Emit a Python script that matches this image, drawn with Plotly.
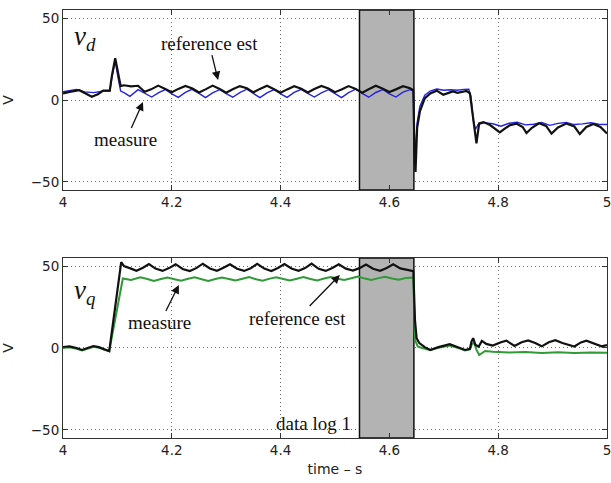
import plotly.graph_objects as go

# ---------------- data ----------------
x_ticks = [4, 4.2, 4.4, 4.6, 4.8, 5]
x_ticklabels = ["4", "4.2", "4.4", "4.6", "4.8", "5"]
y_ticks = [-50, 0, 50]
y_ticklabels = ["\u221250", "0", "50"]

box_t = [4.545, 4.645]   # grey "data log 1" window
box_v = [-55, 55]

# top plot: v_d
vd_ref_t = [4.000, 4.012, 4.030, 4.042, 4.053, 4.064, 4.074, 4.086, 4.090, 4.096, 4.101, 4.106,
            4.112, 4.125, 4.138, 4.150, 4.162, 4.175, 4.188, 4.200, 4.212, 4.225, 4.238, 4.250,
            4.262, 4.275, 4.288, 4.300, 4.312, 4.325, 4.338, 4.350, 4.362, 4.375, 4.388, 4.400,
            4.412, 4.425, 4.438, 4.450, 4.462, 4.475, 4.488, 4.500, 4.512, 4.525, 4.538, 4.550,
            4.562, 4.575, 4.588, 4.600, 4.612, 4.625, 4.638, 4.644, 4.646, 4.648, 4.651, 4.656,
            4.665, 4.675, 4.687, 4.699, 4.710, 4.717, 4.725, 4.733, 4.742, 4.748, 4.754, 4.760,
            4.765, 4.773, 4.785, 4.803, 4.812, 4.822, 4.834, 4.845, 4.852, 4.862, 4.875, 4.888,
            4.898, 4.910, 4.925, 4.940, 4.950, 4.962, 4.975, 4.988, 5.000]
vd_ref_v = [4.0, 5.0, 6.0, 4.0, 2.0, 3.5, 5.7, 5.7, 15.0, 25.5, 16.0, 8.5,
            9.0, 8.3, 8.7, 5.0, 6.5, 8.8, 6.8, 4.8, 6.8, 8.6, 7.0, 4.6,
            6.5, 8.8, 6.8, 4.5, 6.6, 8.5, 7.2, 4.7, 6.8, 8.7, 6.6, 4.4,
            6.5, 8.4, 6.9, 4.6, 6.7, 8.6, 7.0, 4.8, 6.4, 8.5, 6.8, 4.5,
            6.6, 8.7, 6.9, 4.9, 6.5, 8.4, 7.2, 6.0, -30.0, -44.0, -17.0, -7.0,
            1.0, 4.0, 5.7, 3.2, 4.5, 5.2, 4.4, 5.0, 5.5, 4.0, -13.0, -26.5,
            -14.3, -13.5, -15.3, -19.8, -17.5, -15.3, -14.5, -16.5, -20.2, -17.0, -14.2, -15.8,
            -20.5, -16.8, -14.4, -16.2, -20.8, -16.5, -14.6, -16.5, -20.5]

vd_meas_t = [4.000, 4.025, 4.040, 4.056, 4.075, 4.086, 4.090, 4.096, 4.101, 4.106, 4.112, 4.123,
             4.138, 4.150, 4.163, 4.176, 4.188, 4.200, 4.212, 4.225, 4.237, 4.250, 4.262, 4.275,
             4.288, 4.300, 4.312, 4.325, 4.338, 4.350, 4.362, 4.375, 4.388, 4.400, 4.412, 4.425,
             4.438, 4.450, 4.462, 4.475, 4.488, 4.500, 4.512, 4.525, 4.538, 4.550, 4.562, 4.575,
             4.588, 4.600, 4.612, 4.625, 4.638, 4.644, 4.647, 4.651, 4.656, 4.665, 4.675, 4.687,
             4.700, 4.712, 4.725, 4.737, 4.746, 4.750, 4.754, 4.758, 4.763, 4.775, 4.790, 4.805,
             4.820, 4.835, 4.850, 4.865, 4.880, 4.895, 4.910, 4.925, 4.940, 4.955, 4.970, 4.985,
             5.000]
vd_meas_v = [5.0, 6.5, 5.0, 4.5, 5.5, 5.5, 14.0, 24.0, 14.0, 5.5, 4.5, 2.2,
             6.3, 4.0, 1.8, 4.5, 6.4, 3.8, 1.6, 4.6, 6.5, 4.0, 1.5, 4.4,
             6.3, 3.9, 1.7, 4.5, 6.6, 4.0, 1.5, 4.3, 6.4, 3.8, 1.6, 4.6,
             6.5, 4.1, 1.8, 4.4, 6.3, 3.9, 1.5, 4.5, 6.6, 4.0, 1.7, 4.6,
             6.4, 3.8, 1.8, 4.8, 6.3, 5.5, -38.0, -14.0, -4.0, 3.0, 5.5, 6.7,
             6.0, 6.3, 6.0, 6.5, 6.6, 2.0, -12.0, -18.0, -15.0, -13.8, -14.5, -16.0,
             -14.2, -13.6, -15.2, -14.8, -13.8, -15.5, -14.3, -13.7, -15.0, -14.6, -13.9, -14.8,
             -15.0]

# bottom plot: v_q
vq_ref_t = [4.000, 4.012, 4.025, 4.035, 4.045, 4.056, 4.066, 4.075, 4.085, 4.107, 4.112, 4.125,
            4.135, 4.147, 4.158, 4.170, 4.183, 4.195, 4.207, 4.220, 4.233, 4.245, 4.257, 4.270,
            4.283, 4.295, 4.307, 4.320, 4.333, 4.345, 4.357, 4.370, 4.383, 4.395, 4.407, 4.420,
            4.433, 4.445, 4.457, 4.470, 4.483, 4.495, 4.507, 4.520, 4.533, 4.545, 4.557, 4.570,
            4.583, 4.595, 4.607, 4.620, 4.633, 4.644, 4.647, 4.650, 4.655, 4.665, 4.675, 4.690,
            4.711, 4.725, 4.739, 4.748, 4.751, 4.754, 4.758, 4.764, 4.770, 4.778, 4.790, 4.805,
            4.815, 4.830, 4.843, 4.855, 4.868, 4.880, 4.893, 4.905, 4.918, 4.940, 4.952, 4.962,
            4.975, 4.990, 5.000]
vq_ref_v = [0.5, 1.0, 0.0, -1.2, 0.0, 1.2, 0.5, -0.8, -2.0, 52.5, 50.0, 48.5,
            47.2, 49.0, 51.3, 48.5, 47.1, 48.8, 51.2, 48.3, 47.0, 48.8, 51.5, 48.6,
            47.2, 49.0, 51.2, 48.4, 47.1, 48.7, 51.4, 48.5, 47.0, 48.9, 51.3, 48.6,
            47.2, 48.8, 51.5, 48.4, 47.1, 48.9, 51.2, 48.5, 47.3, 48.8, 51.0, 48.4,
            47.2, 48.9, 51.1, 48.6, 47.8, 47.0, 17.0, 6.0, 3.0, 0.5, -1.2, 0.5,
            2.3, 0.5, -1.2, -0.5, 4.0, 6.0, 2.0, 0.8, 4.3, 2.5, 1.5, 3.5,
            4.5, 1.2, 3.5, 4.6, 3.0, 1.0, 3.5, 4.8, 3.0, 0.9, 3.4, 4.5,
            3.0, 1.0, 1.8]

vq_meas_t = [4.000, 4.012, 4.025, 4.035, 4.045, 4.056, 4.066, 4.075, 4.085, 4.110, 4.125, 4.142,
             4.155, 4.167, 4.180, 4.192, 4.205, 4.217, 4.230, 4.242, 4.255, 4.267, 4.280, 4.292,
             4.305, 4.317, 4.330, 4.342, 4.355, 4.367, 4.380, 4.392, 4.405, 4.417, 4.430, 4.442,
             4.455, 4.467, 4.480, 4.492, 4.505, 4.517, 4.530, 4.542, 4.555, 4.567, 4.580, 4.592,
             4.605, 4.617, 4.630, 4.644, 4.647, 4.652, 4.660, 4.675, 4.690, 4.711, 4.725, 4.739,
             4.748, 4.752, 4.756, 4.760, 4.765, 4.776, 4.790, 4.820, 4.850, 4.880, 4.910, 4.940,
             4.970, 5.000]
vq_meas_v = [0.0, 0.5, -0.5, -1.5, -0.5, 0.8, 0.2, -1.0, -1.8, 42.5, 41.5, 43.2,
             42.1, 41.0, 42.2, 43.1, 42.0, 41.1, 42.3, 43.2, 42.0, 41.0, 42.2, 43.0,
             42.1, 41.2, 42.3, 43.3, 42.0, 41.1, 42.4, 43.2, 42.2, 41.2, 42.3, 43.4,
             42.2, 41.3, 42.5, 43.4, 42.3, 41.5, 42.6, 43.6, 42.4, 41.6, 42.7, 43.5,
             42.5, 41.7, 42.8, 43.0, 5.0, 1.0, 0.0, -1.2, 0.2, 1.5, 0.2, -1.5,
             -0.8, 2.5, 3.0, -1.0, -4.3, -1.8, -2.3, -2.8, -2.4, -3.0, -2.6, -3.0,
             -2.7, -2.9]

# ---------------- figure ----------------
BLACK = "#111111"
BLUE = "#2222e0"
GREEN = "#2f9a36"

fig = go.Figure()

# grey data-log windows (drawn first so the signals lie on top)
box_x = [box_t[0], box_t[1], box_t[1], box_t[0], box_t[0]]
box_y = [box_v[0], box_v[0], box_v[1], box_v[1], box_v[0]]
for xa, ya in (("x", "y"), ("x2", "y2")):
    fig.add_trace(go.Scatter(x=box_x, y=box_y, mode="lines", fill="toself",
                             fillcolor="#b3b3b3", line=dict(color="#111111", width=1.5),
                             xaxis=xa, yaxis=ya, showlegend=False, hoverinfo="skip"))

fig.add_trace(go.Scatter(x=vd_meas_t, y=vd_meas_v, mode="lines",
                         line=dict(color=BLUE, width=1.4), xaxis="x", yaxis="y", showlegend=False))
fig.add_trace(go.Scatter(x=vd_ref_t, y=vd_ref_v, mode="lines",
                         line=dict(color=BLACK, width=2.2), xaxis="x", yaxis="y", showlegend=False))
fig.add_trace(go.Scatter(x=vq_meas_t, y=vq_meas_v, mode="lines",
                         line=dict(color=GREEN, width=2.0), xaxis="x2", yaxis="y2", showlegend=False))
fig.add_trace(go.Scatter(x=vq_ref_t, y=vq_ref_v, mode="lines",
                         line=dict(color=BLACK, width=2.2), xaxis="x2", yaxis="y2", showlegend=False))

tickfont = dict(family="DejaVu Sans", size=13.5, color="#222222")
serif = dict(family="Liberation Serif", size=19, color="#111111")

common_x = dict(range=[4, 5], tickvals=x_ticks, ticktext=x_ticklabels, ticks="inside",
                ticklen=5, tickcolor="#333333", showline=True, linecolor="#333333",
                linewidth=1, mirror="ticks", showgrid=True, gridcolor="#707070",
                griddash="1px,3px", gridwidth=1, zeroline=False, tickfont=tickfont,
                automargin=False, ticklabeloverflow="allow")
common_y = dict(range=[-55, 55], tickvals=y_ticks, ticktext=y_ticklabels, ticks="inside",
                ticklen=5, tickcolor="#333333", showline=True, linecolor="#333333",
                linewidth=1, mirror="ticks", showgrid=True, gridcolor="#707070",
                griddash="1px,3px", gridwidth=1, zeroline=False, tickfont=tickfont,
                automargin=False,
                title=dict(text="V", font=dict(family="DejaVu Sans", size=14, color="#222222"),
                           standoff=14))

fig.update_layout(
    width=611, height=483,
    margin=dict(l=63, r=4, t=10, b=45, autoexpand=False),
    paper_bgcolor="white", plot_bgcolor="white",
    xaxis=dict(domain=[0, 1], anchor="y", **common_x),
    yaxis=dict(domain=[0.5794, 1], anchor="x", **common_y),
    xaxis2=dict(domain=[0, 1], anchor="y2",
                title=dict(text="time \u2013 s", font=dict(family="DejaVu Sans", size=14, color="#222222"),
                           standoff=6),
                **common_x),
    yaxis2=dict(domain=[0, 0.4206], anchor="x2", **common_y),
)

arr = dict(showarrow=True, arrowhead=2, arrowsize=1.3, arrowwidth=1.3, arrowcolor="#111111")

annotations = [
    dict(x=4.0165, y=37.8, xref="x", yref="y", xanchor="left", yanchor="middle",
         text="<i>v</i><sub><i>d</i></sub>", showarrow=False,
         font=dict(family="Liberation Serif", size=27, color="#111111")),
    dict(x=4.0165, y=34.5, xref="x2", yref="y2", xanchor="left", yanchor="middle",
         text="<i>v</i><sub><i>q</i></sub>", showarrow=False,
         font=dict(family="Liberation Serif", size=27, color="#111111")),
    # texts with arrows (x, y = arrow head)
    dict(x=4.285, y=12.2, xref="x", yref="y", ax=-9, ay=-37, text="reference est", font=serif, **arr),
    dict(x=4.147, y=-1.2, xref="x", yref="y", ax=-17, ay=38, text="measure", font=serif, **arr),
    dict(x=4.213, y=38.5, xref="x2", yref="y2", ax=-19, ay=38, text="measure", font=serif, **arr),
    dict(x=4.509, y=44.6, xref="x2", yref="y2", ax=-42, ay=43, text="reference est", font=serif, **arr),
    dict(x=4.461, y=-46.3, xref="x2", yref="y2", text="data log 1", showarrow=False, font=serif),
]
fig.update_layout(annotations=annotations)

fig.write_html("out.html", config={"displayModeBar": False},
               post_script="document.body.style.margin='0';document.body.style.padding='0';"
                           "document.body.style.overflow='hidden';")
